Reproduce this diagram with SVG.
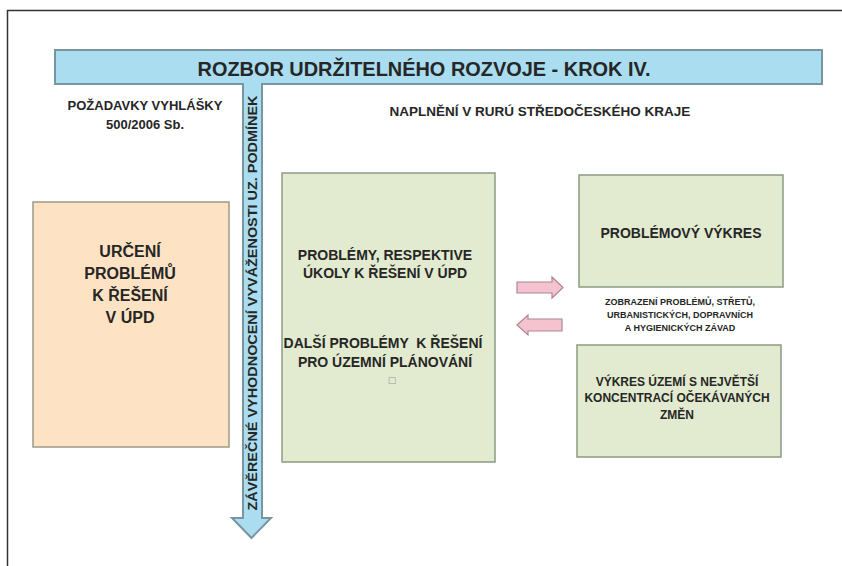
<svg xmlns="http://www.w3.org/2000/svg" width="842" height="566" viewBox="0 0 842 566">
<defs>
<style>
text{font-family:"Liberation Sans",Arial,sans-serif;font-weight:bold;fill:#262626;text-anchor:middle}
.green{fill:#e2ebcf;stroke:#8d9a84;stroke-width:1.5}
.orange{fill:#fde3c3;stroke:#9c9a8c;stroke-width:1.5}
.pink{fill:#f5c3cf;stroke:#b08494;stroke-width:1.2}
.t16{font-size:16px}
.t14{font-size:14px}
.t13{font-size:13px}
.t12{font-size:12px}
.t8{font-size:9px}
</style>
</defs>
<rect x="0" y="0" width="842" height="566" fill="#ffffff"/>
<path d="M7.5,566 V10.5 H842" fill="none" stroke="#333333" stroke-width="1.5"/>

<g id="banner">
<path d="M55,50 H822 V84 H262 V518 H271 L251.5,538 L232,518 H243 V84 H55 Z" fill="#a9ddef" stroke="#7a95a2" stroke-width="2"/>
<text x="424" y="76" style="font-size:19.5px" textLength="453" lengthAdjust="spacingAndGlyphs">ROZBOR UDRŽITELNÉHO ROZVOJE - KROK IV.</text>
<text transform="translate(257,303) rotate(-90)" style="font-size:13px" textLength="415" lengthAdjust="spacingAndGlyphs">ZÁVĚREČNÉ VYHODNOCENÍ VYVÁŽENOSTI UZ. PODMÍNEK</text>
</g>

<g id="header-left">
<text class="t13" x="145" y="109.5">POŽADAVKY VYHLÁŠKY</text>
<text class="t13" x="145" y="128.5">500/2006 Sb.</text>
</g>

<g id="header-right">
<text x="540" y="116" style="font-size:13.5px">NAPLNĚNÍ V RURÚ STŘEDOČESKÉHO KRAJE</text>
</g>

<g id="urceni">
<rect class="orange" x="33" y="202" width="196" height="245"/>
<text class="t16" x="130" y="257">URČENÍ</text>
<text class="t16" x="130" y="279">PROBLÉMŮ</text>
<text class="t16" x="130" y="301">K ŘEŠENÍ</text>
<text class="t16" x="130" y="323">V ÚPD</text>
</g>

<g id="problemy">
<rect class="green" x="282" y="173" width="213" height="289"/>
<text class="t14" x="385" y="260">PROBLÉMY, RESPEKTIVE</text>
<text class="t14" x="385" y="278">ÚKOLY K ŘEŠENÍ V ÚPD</text>
<text class="t14" x="383" y="348" style="white-space:pre">DALŠÍ PROBLÉMY  K ŘEŠENÍ</text>
<text class="t14" x="385" y="367">PRO ÚZEMNÍ PLÁNOVÁNÍ</text>
<text x="392" y="383" style="font-size:9px;font-weight:normal;fill:#9a9a9a;font-family:'DejaVu Sans',sans-serif">□</text>
</g>

<g id="problemovy-vykres">
<rect class="green" x="579" y="175" width="204" height="112"/>
<text class="t14" x="681" y="238">PROBLÉMOVÝ VÝKRES</text>
</g>

<g id="caption">
<text class="t8" x="680" y="305">ZOBRAZENÍ PROBLÉMŮ, STŘETŮ,</text>
<text class="t8" x="680" y="318">URBANISTICKÝCH, DOPRAVNÍCH</text>
<text class="t8" x="680" y="331">A HYGIENICKÝCH ZÁVAD</text>
</g>

<g id="vykres-uzemi">
<rect class="green" x="577" y="345" width="204" height="112"/>
<text class="t12" x="677" y="386">VÝKRES ÚZEMÍ S NEJVĚTŠÍ</text>
<text class="t12" x="677" y="402">KONCENTRACÍ OČEKÁVANÝCH</text>
<text class="t12" x="677" y="419">ZMĚN</text>
</g>

<g id="connectors">
<path class="pink" d="M517,282 H552 V277 L563,287.5 L552,298 V293 H517 Z"/>
<path class="pink" d="M562,319 H528 V315 L517,325 L528,335 V331 H562 Z"/>
</g>
</svg>
